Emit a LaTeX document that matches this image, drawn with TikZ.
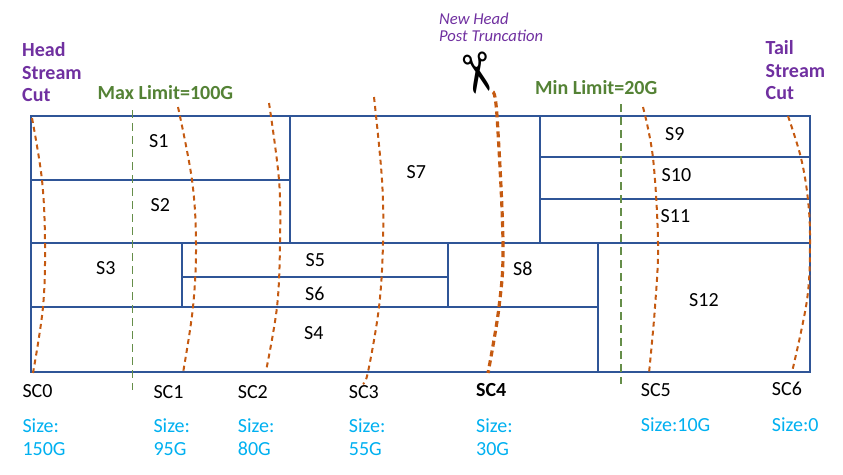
\documentclass[tikz,border=0pt]{standalone}
\usepackage{fontspec}
\setmainfont{Carlito}
\newfontfamily\symfont{DejaVu Sans}
\definecolor{frameblue}{HTML}{2F5597}
\definecolor{cutorange}{HTML}{C55A11}
\definecolor{limgreen}{HTML}{548235}
\definecolor{headpurple}{HTML}{7030A0}
\definecolor{sizecyan}{HTML}{00B0F0}
\begin{document}
\begin{tikzpicture}[x=1pt,y=-1pt,
  seg/.style={draw=frameblue, line width=2pt},
  outer/.style={draw=frameblue, line width=2.8pt},
  lbl/.style={anchor=base west, inner sep=0pt, font=\fontsize{20}{24}\selectfont},
  seglbl/.style={lbl, text=black},
  sclbl/.style={lbl, text=black},
  sizelbl/.style={lbl, text=sizecyan},
  purplbl/.style={lbl, text=headpurple, font=\fontsize{20}{24}\selectfont\bfseries},
  newhead/.style={lbl, text=headpurple, font=\fontsize{16.6}{19}\selectfont\itshape},
  limlbl/.style={lbl, text=limgreen, font=\fontsize{20}{24}\selectfont\bfseries},
  cutline/.style={draw=cutorange, line width=2pt, dash pattern=on 5pt off 4pt},
  boldcut/.style={draw=cutorange, line width=3.2pt, dash pattern=on 6pt off 4pt},
  limline/.style={draw=limgreen!90!white, line width=1.8pt, dash pattern=on 8pt off 5pt}
]
\useasboundingbox (0,0) rectangle (843,474);

% segments
\draw[seg] (31,116) rectangle (290,180);
\draw[seg] (31,180) rectangle (290,243);
\draw[seg] (290,116) rectangle (540,243);
\draw[seg] (540,116) rectangle (810,157);
\draw[seg] (540,157) rectangle (810,199);
\draw[seg] (540,199) rectangle (810,243);
\draw[seg] (31,243) rectangle (182,307);
\draw[seg] (182,243) rectangle (448,277);
\draw[seg] (182,277) rectangle (448,307);
\draw[seg] (448,243) rectangle (598,307);
\draw[seg] (31,307) rectangle (598,372);
\draw[seg] (598,243) rectangle (810,372);
\draw[outer] (31,116) rectangle (810,372);

% segment labels
\node[seglbl] (s1) at (149,147.5) {S1};
\node[seglbl] (s2) at (150.5,211) {S2};
\node[seglbl] (s7) at (406.5,178) {S7};
\node[seglbl] (s9) at (665,140) {S9};
\node[seglbl] (s10) at (661.5,181.5) {S10};
\node[seglbl] (s11) at (660.5,222) {S11};
\node[seglbl] (s3) at (96,274) {S3};
\node[seglbl] (s5) at (305.5,266) {S5};
\node[seglbl] (s6) at (305,300.5) {S6};
\node[seglbl] (s4) at (304,339) {S4};
\node[seglbl] (s8) at (513,275) {S8};
\node[seglbl] (s12) at (689,306.5) {S12};

% limit lines
\draw[limline] (132.5,110) -- (132.5,390);
\draw[limline] (621,104) -- (621,384);

% stream cut curves
\draw[cutline] plot[smooth, tension=0.6] coordinates {(32,118) (42,180) (45,243) (43,307) (33,373)};
\draw[cutline] plot[smooth, tension=0.6] coordinates {(178,107) (192,180) (196,243) (193,307) (183,373)};
\draw[cutline] plot[smooth, tension=0.6] coordinates {(269,103) (279,180) (280,243) (277,307) (266,371)};
\draw[cutline] plot[smooth, tension=0.6] coordinates {(374,97) (382,180) (383,243) (379,307) (368,372) (363,384)};
\draw[boldcut] plot[smooth, tension=0.6] coordinates {(493,92) (497,116) (503,243) (499,307) (488,373)};
\draw[cutline] plot[smooth, tension=0.6] coordinates {(643,107) (653,158) (658,243) (655,307) (649,373)};
\draw[cutline] plot[smooth, tension=0.6] coordinates {(788,116) (801,158) (808,200) (810,243) (807,300) (792,372)};

% scissors
\node[inner sep=0pt, rotate=-78, font=\symfont\fontsize{54}{54}\selectfont] (scissors) at (475,74) {✂};

% top labels
\node[purplbl] (head1) at (22,56.5) {Head};
\node[purplbl] (head2) at (22,79) {Stream};
\node[purplbl] (head3) at (22,101) {Cut};
\node[purplbl] (tail1) at (765.5,54) {Tail};
\node[purplbl] (tail2) at (765.5,77) {Stream};
\node[purplbl] (tail3) at (765.5,99) {Cut};
\node[limlbl] (maxlim) at (97.5,99) {Max Limit=100G};
\node[limlbl] (minlim) at (535,94) {Min Limit=20G};
\node[newhead] (nh1) at (439,24) {New Head};
\node[newhead] (nh2) at (439,41) {Post Truncation};

% bottom labels
\node[sclbl] (sc0) at (22.3,397.7) {SC0};
\node[sclbl] (sc1) at (153.3,398.3) {SC1};
\node[sclbl] (sc2) at (237.7,398) {SC2};
\node[sclbl] (sc3) at (348.7,398) {SC3};
\node[sclbl, font=\fontsize{20}{24}\selectfont\bfseries] (sc4) at (476,396.7) {SC4};
\node[sclbl] (sc5) at (640.7,396.7) {SC5};
\node[sclbl] (sc6) at (771.7,395.7) {SC6};

\node[sizelbl] (z0a) at (22.3,432.7) {Size:};
\node[sizelbl] (z0b) at (22.3,455) {150G};
\node[sizelbl] (z1a) at (153.3,432.7) {Size:};
\node[sizelbl] (z1b) at (153.3,455) {95G};
\node[sizelbl] (z2a) at (237.7,432.7) {Size:};
\node[sizelbl] (z2b) at (237.7,455) {80G};
\node[sizelbl] (z3a) at (348.7,432.7) {Size:};
\node[sizelbl] (z3b) at (348.7,455) {55G};
\node[sizelbl] (z4a) at (476,432.7) {Size:};
\node[sizelbl] (z4b) at (476,455) {30G};
\node[sizelbl] (z5) at (640.7,431.7) {Size:10G};
\node[sizelbl] (z6) at (771.7,431) {Size:0};
\end{tikzpicture}
\end{document}
